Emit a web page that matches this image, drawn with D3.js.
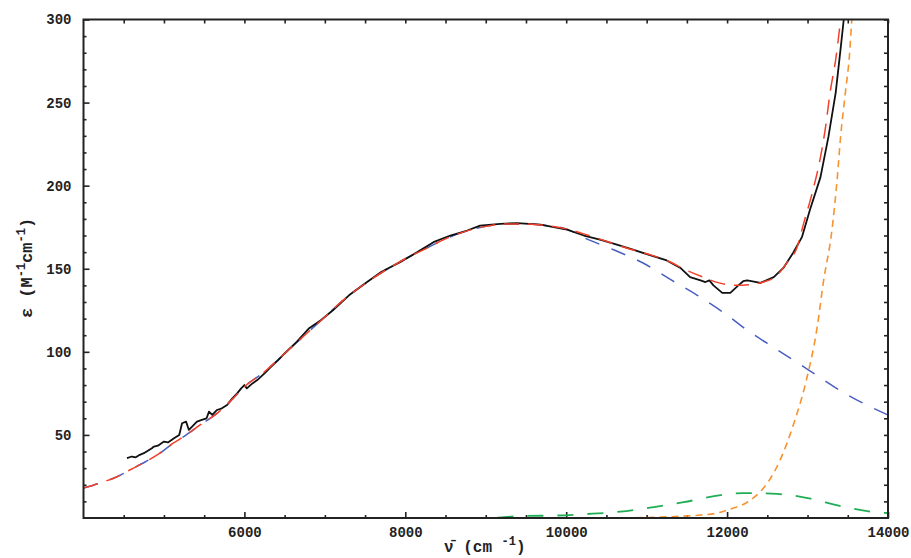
<!DOCTYPE html>
<html>
<head>
<meta charset="utf-8">
<script src="https://cdn.jsdelivr.net/npm/d3@7/dist/d3.min.js"></script>
<style>
  body { margin: 0; background: #fff; }
  svg text { font-family: "Liberation Mono", "DejaVu Sans Mono", monospace; font-weight: bold; fill: #222; }
</style>
</head>
<body>
<div id="chart"></div>
<script>
var measured = [
  [4540,36],[4600,37],[4650,36.5],[4700,38],[4750,39],[4800,40.5],[4850,42],[4875,43],[4925,43.5],
  [5000,46],[5050,45.5],[5125,48],[5190,50],[5225,57],[5275,58],[5310,53],[5350,55],[5410,58],
  [5470,59],[5530,60],[5560,64],[5600,62],[5660,65],[5720,66],[5785,68],[5850,72],[5910,75],
  [5960,78],[6000,80],[6030,78],[6100,81],[6160,83],[6250,87],[6330,91],[6420,95],[6500,99],
  [6650,106],[6800,114],[6950,119],[7100,125],[7300,134],[7525,142],[7700,148],[7935,154],
  [8150,160],[8350,166],[8560,170],[8770,173],[8930,176],[9180,177],[9390,177.5],[9680,176.5],
  [10010,173.5],[10220,170],[10420,167.5],[10630,164.5],[10830,161.5],[11050,158],[11250,155],
  [11420,150.5],[11540,145],[11670,143],[11730,142],[11780,143],[11830,140],[11940,135.5],
  [12040,135.5],[12140,140],[12200,142.5],[12250,143],[12415,141.5],[12580,145],[12700,150.5],
  [12820,159.5],[12930,169],[13030,185.5],[13160,205],[13260,229.5],[13350,256],[13410,282],
  [13450,300],[13470,312]
];
var totalFit = [
  [4000,18],[4200,21],[4410,24.7],[4600,29.5],[4765,33.7],[4950,39],[5115,45],[5260,49.4],
  [5450,56],[5660,63],[5860,72],[6000,79],[6250,88],[6500,99],[6750,110],[7000,121],[7250,132],
  [7500,141],[7750,149],[8000,156],[8250,162],[8500,168],[8750,172.5],[9000,175.5],[9250,177],
  [9500,177],[9750,176],[10000,174],[10250,170.5],[10500,166.5],[10750,162.5],[11000,159],
  [11250,155],[11500,149],[11700,145],[11900,141.5],[12100,140],[12300,140.5],[12450,142],
  [12620,146],[12750,154],[12870,163],[12950,177],[13060,196],[13160,217],[13220,234],
  [13280,256],[13350,276],[13410,300],[13440,315]
];
var band1 = [
  [4000,18],[4200,21],[4410,24.7],[4600,29.5],[4765,33.7],[4950,39],[5115,45],[5260,49.4],
  [5450,56],[5660,63],[5860,72],[6000,79],[6250,88],[6500,99],[6750,110],[7000,121],[7250,132],
  [7500,141],[7750,149],[8000,156],[8250,162],[8500,168],[8750,172.5],[9000,175.5],[9250,177],
  [9500,177],[9750,176],[10000,174],[10220,168.7],[10590,161.4],[10950,153.6],[11300,143.4],
  [11630,134],[11960,123.5],[12250,113],[12600,102],[13000,89.5],[13500,74],[14000,62]
];
var band2 = [
  [4000,0],[9000,0],[9470,1.2],[9890,1.5],[10260,2.4],[10670,3.8],[11090,6.6],[11460,9.5],
  [11920,13.8],[12200,15],[12620,14.5],[13000,12],[13410,7.2],[13820,3.6],[14000,3]
];
var chargeTransfer = [
  [4000,0],[10500,0],[11000,0.3],[11400,1],[11670,1.8],[11880,3],[12040,5.4],[12250,9.5],
  [12415,16],[12500,21],[12660,35],[12830,57],[12970,80],[13120,115],[13200,143],[13300,172],
  [13370,205],[13410,229],[13470,256],[13520,278],[13550,300],[13570,315]
];
var baseline = [[4000,0],[14000,0]];

var xMajor = [6000, 8000, 10000, 12000, 14000];
var yMajor = [50, 100, 150, 200, 250, 300];

var width = 911, height = 558,
    margin = { left: 83.5, right: 23, top: 19.5, bottom: 40 },
    plotW = width - margin.left - margin.right,
    plotH = height - margin.top - margin.bottom;

var svg = d3.select("#chart").append("svg")
  .attr("width", width)
  .attr("height", height);

var x = d3.scaleLinear().domain([4000, 14000]).range([0, plotW]);
var y = d3.scaleLinear().domain([0, 300]).range([plotH, 0]);

var g = svg.append("g").attr("transform", "translate(" + margin.left + "," + margin.top + ")");

svg.append("defs").append("clipPath").attr("id", "plotclip")
  .append("rect").attr("x", 0).attr("y", 0).attr("width", plotW).attr("height", plotH);

var minorX = d3.range(4500, 14000, 500).filter(function(d) { return xMajor.indexOf(d) < 0; });
var minorY = d3.range(10, 300, 10).filter(function(d) { return yMajor.indexOf(d) < 0; });

function styleAxis(sel) {
  sel.select(".domain").remove();
  sel.selectAll("line").attr("stroke", "#222").attr("stroke-width", 1.6);
  sel.selectAll("text").style("font-size", "14px");
}

// bottom / top
g.append("g").attr("transform", "translate(0," + plotH + ")")
  .call(d3.axisBottom(x).tickValues(xMajor).tickSizeInner(-6).tickSizeOuter(0).tickPadding(9).tickFormat(d3.format("d")))
  .call(styleAxis);
g.append("g").attr("transform", "translate(0," + plotH + ")")
  .call(d3.axisBottom(x).tickValues(minorX).tickSizeInner(-3).tickSizeOuter(0).tickFormat(""))
  .call(styleAxis);
g.append("g")
  .call(d3.axisTop(x).tickValues(xMajor.concat(minorX)).tickSizeInner(-4).tickSizeOuter(0).tickFormat(""))
  .call(styleAxis);
// left / right
g.append("g")
  .call(d3.axisLeft(y).tickValues(yMajor).tickSizeInner(-6).tickSizeOuter(0).tickPadding(12))
  .call(styleAxis);
g.append("g")
  .call(d3.axisLeft(y).tickValues(minorY).tickSizeInner(-3).tickSizeOuter(0).tickFormat(""))
  .call(styleAxis);
g.append("g").attr("transform", "translate(" + plotW + ",0)")
  .call(d3.axisRight(y).tickValues(yMajor.concat(minorY)).tickSizeInner(-4).tickSizeOuter(0).tickFormat(""))
  .call(styleAxis);

var line = d3.line()
  .x(function(d) { return x(d[0]); })
  .y(function(d) { return y(d[1]); });
var smooth = d3.line()
  .curve(d3.curveMonotoneX)
  .x(function(d) { return x(d[0]); })
  .y(function(d) { return y(d[1]); });

var curves = g.append("g").attr("clip-path", "url(#plotclip)");

curves.append("path").datum(baseline).attr("d", line)
  .attr("fill", "none").attr("stroke", "#f7922f").attr("stroke-width", 2);
curves.append("path").datum(baseline).attr("d", line)
  .attr("fill", "none").attr("stroke", "#222").attr("stroke-width", 2)
  .attr("stroke-dasharray", "7,8");
curves.append("path").datum(band2).attr("d", smooth)
  .attr("fill", "none").attr("stroke", "#1fae55").attr("stroke-width", 1.8)
  .attr("stroke-dasharray", "16,14").attr("stroke-dashoffset", 6);
curves.append("path").datum(chargeTransfer).attr("d", smooth)
  .attr("fill", "none").attr("stroke", "#f7922f").attr("stroke-width", 1.6)
  .attr("stroke-dasharray", "7,5");
curves.append("path").datum(band1).attr("d", smooth)
  .attr("fill", "none").attr("stroke", "#4a5ec0").attr("stroke-width", 1.5)
  .attr("stroke-dasharray", "15,13");
curves.append("path").datum(measured).attr("d", line)
  .attr("fill", "none").attr("stroke", "#111").attr("stroke-width", 1.8)
  .attr("stroke-linejoin", "round");
curves.append("path").datum(totalFit).attr("d", smooth)
  .attr("fill", "none").attr("stroke", "#f2402a").attr("stroke-width", 1.5)
  .attr("stroke-dasharray", "15,9");

// frame
g.append("rect").attr("width", plotW).attr("height", plotH)
  .attr("fill", "none").attr("stroke", "#222").attr("stroke-width", 2);

// axis titles
var yTitle = svg.append("text")
  .attr("transform", "translate(32,268) rotate(-90)")
  .attr("text-anchor", "middle")
  .style("font-size", "17px");
yTitle.append("tspan").text("\u03b5 (M");
yTitle.append("tspan").attr("dy", -7).style("font-size", "12px").text("-1");
yTitle.append("tspan").attr("dy", 7).text("cm");
yTitle.append("tspan").attr("dy", -7).style("font-size", "12px").text("-1");
yTitle.append("tspan").attr("dy", 7).text(")");

var xTitle = svg.append("text")
  .attr("x", 444).attr("y", 552)
  .style("font-size", "16px");
xTitle.append("tspan").text("\u03bd\u0304 (cm ");
xTitle.append("tspan").attr("dy", -7).style("font-size", "12px").text("-1");
xTitle.append("tspan").attr("dy", 7).text(")");
</script>
</body>
</html>
